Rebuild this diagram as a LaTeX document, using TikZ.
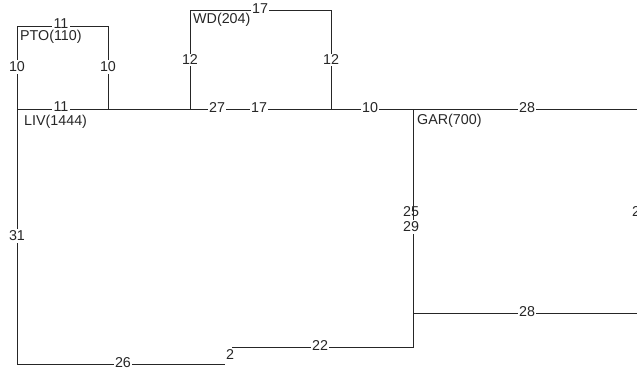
\documentclass[tikz,border=0pt]{standalone}
\usepackage{fontspec}
\setmainfont{Liberation Sans}
\begin{document}
\begin{tikzpicture}[x=1pt,y=-1pt,
  wire/.style={line width=0.9pt,black!85},
  lbl/.style={inner sep=1.5pt,fill=white,font=\fontsize{14.3}{16}\selectfont,text=black!85},
  lblnf/.style={inner sep=1.5pt,font=\fontsize{14.3}{16}\selectfont,text=black!85},
  nmlbl/.style={inner sep=0pt,font=\fontsize{14.3}{16}\selectfont,text=black!85,anchor=west}]
\useasboundingbox (0,0) rectangle (637,370);
\clip (0,0) rectangle (637,370);
% coordinates
\coordinate (ptoTL) at (17,26);
\coordinate (ptoTR) at (108,26);
\coordinate (ptoBR) at (108,109);
\coordinate (liv) at (17,109);
\coordinate (wdTL) at (190,10);
\coordinate (wdTR) at (331,10);
\coordinate (wdBL) at (190,109);
\coordinate (wdBR) at (331,109);
\coordinate (gar) at (413,109);
\coordinate (mainE) at (640,109);
\coordinate (garB) at (413,347);
\coordinate (garM) at (413,313);
\coordinate (midE) at (640,313);
\coordinate (livB) at (17,364);
\coordinate (botE) at (225,364);
\coordinate (lowW) at (232,347);
% wires
\draw[wire] (liv) -- (ptoTL) -- (ptoTR) -- (ptoBR);
\draw[wire] (liv) -- (mainE);
\draw[wire] (wdBL) -- (wdTL) -- (wdTR) -- (wdBR);
\draw[wire] (gar) -- (garB) -- (lowW);
\draw[wire] (garM) -- (midE);
\draw[wire] (liv) -- (livB) -- (botE);
% edge labels
\node[lbl] (t11) at (61,24) {11};
\node[lbl] (m11) at (61,107) {11};
\node[lbl] (p10a) at (17,67) {10};
\node[lbl] (p10b) at (108,67) {10};
\node[lbl] (w12a) at (190,60) {12};
\node[lbl] (w12b) at (331,60) {12};
\node[lbl] (w17) at (260,9) {17};
\node[lbl] (m27) at (217,108) {27};
\node[lbl] (m17) at (259,108) {17};
\node[lbl] (m10) at (370,108) {10};
\node[lbl] (m28) at (527,108) {28};
\node[lbl] (g29) at (411,227) {29};
\node[lblnf] (g25) at (411,212) {25};
\node[lbl] (l31) at (17,236) {31};
\node[lbl] (b26) at (123,363) {26};
\node[lblnf] (b2) at (230,355) {2};
\node[lbl] (b22) at (320,346) {22};
\node[lbl] (r28) at (527,312) {28};
\node[nmlbl] (r2) at (632,212) {2};
% names
\node[nmlbl] (ptoN) at (20,37) {PTO(110)};
\node[nmlbl] (livN) at (24,122) {LIV(1444)};
\node[nmlbl] (wdN) at (193,20) {WD(204)};
\node[nmlbl] (garN) at (417,121) {GAR(700)};
\end{tikzpicture}
\end{document}
